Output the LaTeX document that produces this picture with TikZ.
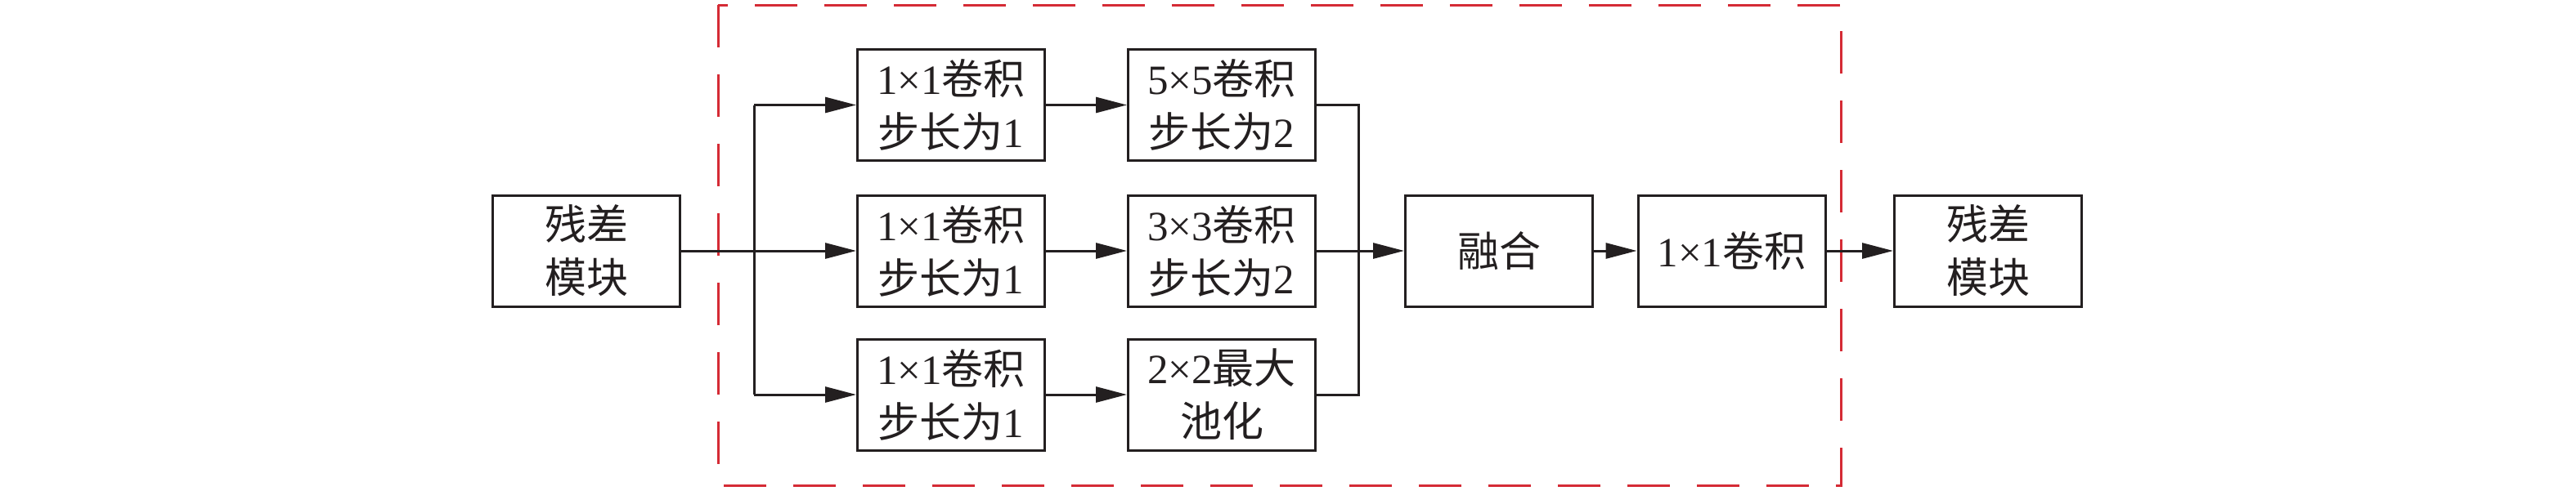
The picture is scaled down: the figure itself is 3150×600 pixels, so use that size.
\documentclass[tikz,border=0pt]{standalone}
\usepackage{fontspec}
\setmainfont{Liberation Serif}
\newfontfamily\cjk{Noto Sans CJK SC}
\newcommand\zh[1]{{\cjk #1}}
\usetikzlibrary{arrows.meta}
\definecolor{dashred}{RGB}{213,43,53}
\definecolor{ink}{RGB}{35,31,32}
\begin{document}
\begin{tikzpicture}[x=0.5pt,y=-0.5pt,
  box/.style={draw=ink, text=ink, line width=1.5pt, minimum width=114.5pt, minimum height=68pt,
    inner sep=0pt, align=center, font=\fontsize{25.5pt}{32.5pt}\selectfont},
  conn/.style={draw=ink, line width=1.5pt, -{Triangle[length=19pt,width=9.5pt]}},
  plainline/.style={draw=ink, line width=1.5pt, line join=miter}]
\useasboundingbox (0,0) rectangle (3150,600);
\draw[dashred, line width=1.5pt, dash pattern=on 26pt off 16.5pt] (878,6) rectangle (2251,594);

\node[box] (L) at (717,307) {\zh{残差}\\\zh{模块}};
\node[box] (t1) at (1163,128.5) {1×1\zh{卷积}\\\zh{步长为}1};
\node[box] (m1) at (1163,307) {1×1\zh{卷积}\\\zh{步长为}1};
\node[box] (b1) at (1163,483) {1×1\zh{卷积}\\\zh{步长为}1};
\node[box] (t2) at (1494,128.5) {5×5\zh{卷积}\\\zh{步长为}2};
\node[box] (m2) at (1494,307) {3×3\zh{卷积}\\\zh{步长为}2};
\node[box] (b2) at (1494,483) {2×2\zh{最大}\\\zh{池化}};
\node[box] (fuse) at (1833,307) {\zh{融合}};
\node[box] (c11) at (2117.5,307) {1×1\zh{卷积}};
\node[box] (R) at (2431,307) {\zh{残差}\\\zh{模块}};

\coordinate (bt) at (922,128.5);
\coordinate (bb) at (922,483);
\coordinate (mt) at (1661,128.5);
\coordinate (mm) at (1661,307);
\coordinate (mb) at (1661,483);

\draw[plainline] (bt) -- (bb);
\draw[conn] (L.east) -- (m1.west);
\draw[conn] (bt) -- (t1.west);
\draw[conn] (bb) -- (b1.west);
\draw[conn] (t1.east) -- (t2.west);
\draw[conn] (m1.east) -- (m2.west);
\draw[conn] (b1.east) -- (b2.west);
\draw[plainline] (t2.east) -- (mt) -- (mb) -- (b2.east);
\draw[plainline] (m2.east) -- (mm);
\draw[conn] (mm) -- (fuse.west);
\draw[conn] (fuse.east) -- (c11.west);
\draw[conn] (c11.east) -- (R.west);
\end{tikzpicture}
\end{document}
